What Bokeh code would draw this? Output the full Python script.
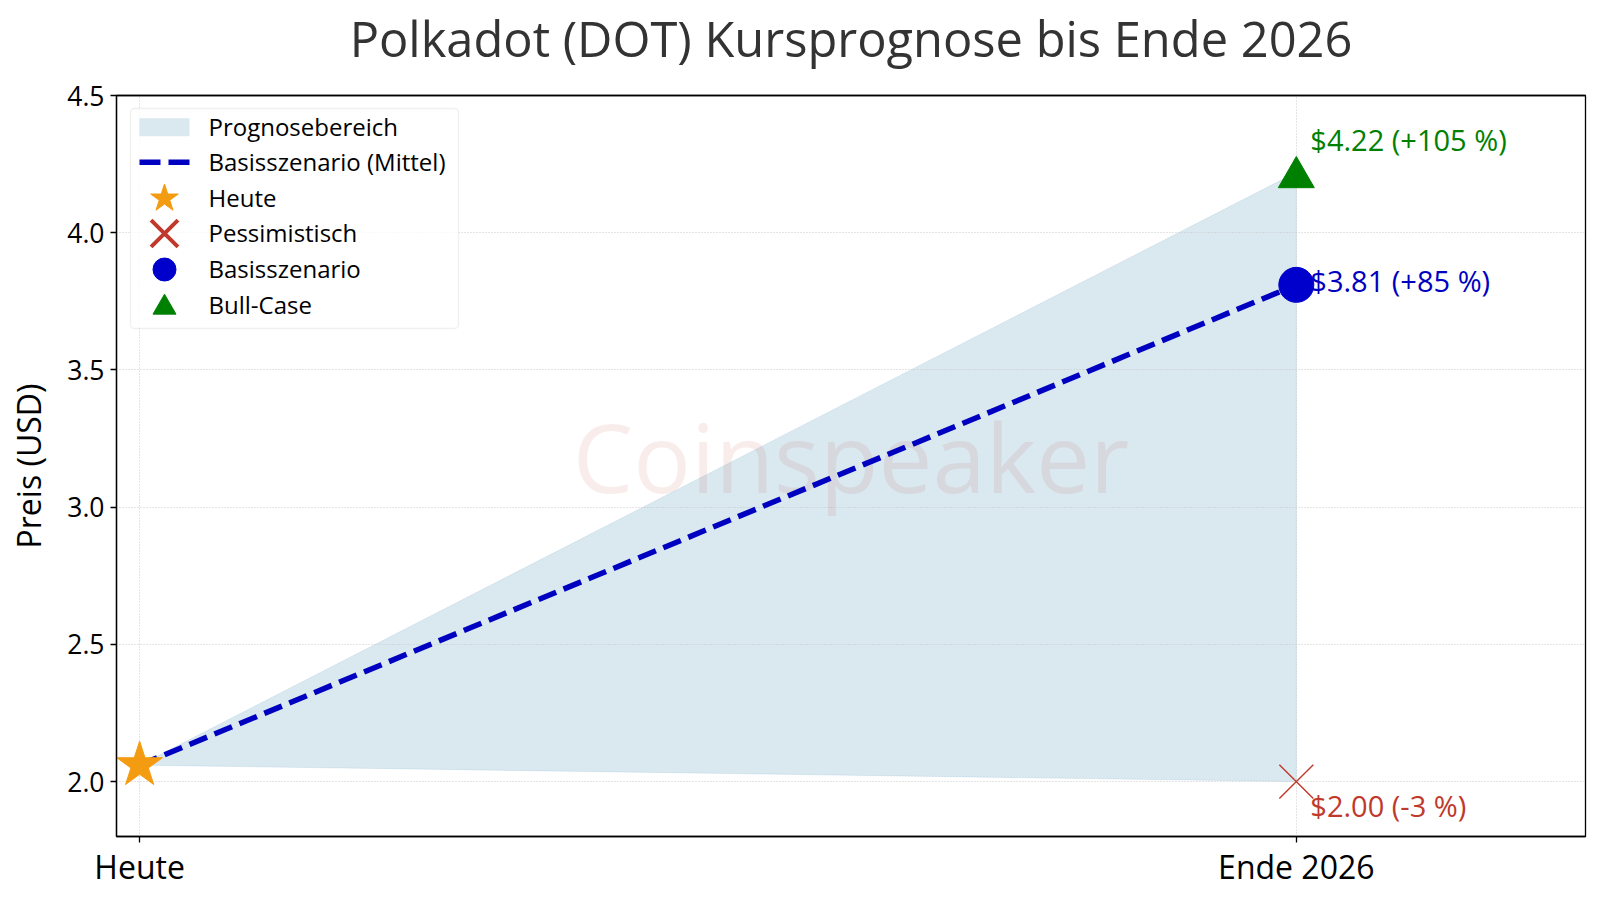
from bokeh.plotting import figure
from bokeh.models import ColumnDataSource, Label, FixedTicker, Range1d, BoxAnnotation, LinearAxis
from bokeh.core.properties import value
from bokeh.transform import dodge
from bokeh.embed import file_html
from bokeh.resources import INLINE

FONT = "Open Sans"

title_text = "Polkadot (DOT) Kursprognose bis Ende 2026"
y_label = "Preis (USD)"
x_ticks = [0, 1]
x_tick_labels = ["Heute", "Ende 2026"]
y_ticks = [2.0, 2.5, 3.0, 3.5, 4.0, 4.5]
y_tick_labels = ["2.0", "2.5", "3.0", "3.5", "4.0", "4.5"]

today_price = 2.06
bear_price = 2.00
base_price = 3.81
bull_price = 4.22
x_pos = [0, 1]

bear_label = "$2.00 (-3 %)"
base_label = "$3.81 (+85 %)"
bull_label = "$4.22 (+105 %)"

legend_labels = ["Prognosebereich", "Basisszenario (Mittel)", "Heute", "Pessimistisch", "Basisszenario", "Bull-Case"]
watermark = "Coinspeaker"

RED = "#C0392B"; BLUE = "#0000CD"; DBLUE = "#0000C0"; GREEN = "#008000"; ORANGE = "#F39C12"; BAND = "#448CB4"

# layout (page pixels of the plot frame)
W, H = 1590, 896
FL, FR, FT, FB = 116, 1585, 95, 836
X0, X1, Y0, Y1 = -0.02, 1.25, 1.8, 4.5

def fx(px):
    return X0 + (px - FL) / (FR - FL) * (X1 - X0)
def fy(py):
    return Y0 + (FB - py) / (FB - FT) * (Y1 - Y0)

p = figure(width=W, height=H, output_backend="svg", toolbar_location=None,
           x_range=Range1d(X0, X1), y_range=Range1d(Y0, Y1),
           min_border_left=FL, min_border_right=W - FR, min_border_top=FT, min_border_bottom=H - FB)

# chart title, carried by a tickless axis above the frame so its height can be set
title_axis = LinearAxis(ticker=FixedTicker(ticks=[]), axis_label=title_text, axis_label_standoff=25,
                        axis_label_text_font=FONT, axis_label_text_font_style="normal",
                        axis_label_text_font_size="48.8px", axis_label_text_color="#333333",
                        axis_line_color=None, major_tick_line_color=None, minor_tick_line_color=None,
                        major_tick_out=0, minor_tick_out=0, major_label_standoff=0)
p.add_layout(title_axis, "above")

p.outline_line_color = "black"
p.outline_line_width = 1.3

for ax in (p.xaxis[0], p.yaxis[0]):
    ax.major_label_text_font = FONT
    ax.major_label_text_color = "black"
    ax.axis_line_color = "black"
    ax.axis_line_width = 1.3
    ax.major_tick_line_color = "black"
    ax.major_tick_line_width = 1.3
    ax.major_tick_out = 6
    ax.major_tick_in = 0
    ax.minor_tick_line_color = None

bottom_axis = p.below[0]
bottom_axis.ticker = FixedTicker(ticks=x_ticks)
bottom_axis.major_label_overrides = dict(zip(x_ticks, x_tick_labels))
bottom_axis.major_label_text_font = FONT
bottom_axis.major_label_text_color = "black"
bottom_axis.axis_line_color = "black"
bottom_axis.axis_line_width = 1.3
bottom_axis.major_tick_line_color = "black"
bottom_axis.major_tick_line_width = 1.3
bottom_axis.major_tick_out = 6
bottom_axis.major_tick_in = 0
bottom_axis.minor_tick_line_color = None
bottom_axis.major_label_text_font_size = "32px"
bottom_axis.major_label_standoff = 2

p.yaxis.ticker = FixedTicker(ticks=y_ticks)
p.yaxis.major_label_overrides = dict(zip(y_ticks, y_tick_labels))
p.yaxis.major_label_text_font_size = "26.5px"
p.yaxis.major_label_standoff = 6
p.yaxis.axis_label = y_label
p.yaxis.axis_label_text_font = FONT
p.yaxis.axis_label_text_font_style = "normal"
p.yaxis.axis_label_text_font_size = "32px"
p.yaxis.axis_label_text_color = "black"
p.yaxis.axis_label_standoff = 14

for g in (p.xgrid[0], p.ygrid[0]):
    g.grid_line_color = "#c8c8c8"
    g.grid_line_dash = "1 2"
    g.grid_line_width = 1

# forecast band
p.patch(x=[x_pos[0], x_pos[1], x_pos[1]], y=[today_price, bull_price, bear_price],
        fill_color=BAND, fill_alpha=0.2, line_color=BAND, line_alpha=0.12, line_width=1, level="underlay")

p.add_layout(Label(x=(X0 + X1) / 2, y=fy((FT + FB) / 2 - 11),
                   text=watermark, text_align="center", text_baseline="middle", level="underlay",
                   text_font=FONT, text_font_size="96px", text_color=RED, text_alpha=0.09))

p.line(x_pos, [today_price, base_price], line_color=DBLUE, line_width=5.5, line_dash="19 8")

p.scatter([x_pos[0]], [today_price], marker="star", size=48, fill_color=ORANGE, line_color=ORANGE)
p.scatter([x_pos[1]], [bear_price], marker="x", size=48, line_color=RED, line_width=1.4)
p.scatter([x_pos[1]], [base_price], marker="circle", size=35, fill_color=BLUE, line_color=BLUE)
p.scatter(x="x", y=dodge("y", -0.018), source=ColumnDataSource(dict(x=[x_pos[1]], y=[bull_price])),
          marker="triangle", size=36, fill_color=GREEN, line_color=GREEN)

for lab, price, col, off in ((bull_label, bull_price, GREEN, -33), (base_label, base_price, DBLUE, -4), (bear_label, bear_price, RED, 24)):
    p.text([x_pos[1]], [price], text=[lab], x_offset=14, y_offset=off, text_color=col,
           text_font=value(FONT), text_font_size="29px", text_baseline="alphabetic", text_align="left")

# legend
p.add_layout(BoxAnnotation(left=fx(130), right=fx(458), top=fy(108), bottom=fy(328),
                           fill_color="white", fill_alpha=0.8, line_color="#cccccc", line_width=1.3,
                           border_radius=4))

KEY_X = 164
TEXT_X = 208
ROWS = [126.7, 161.7, 198, 233, 269, 305]

p.rect([fx(KEY_X)], [fy(ROWS[0])], width=50, height=18, width_units="screen", height_units="screen",
       fill_color=BAND, fill_alpha=0.2, line_color=None, level="overlay")
p.line([fx(KEY_X - 25), fx(KEY_X + 25)], [fy(ROWS[1]), fy(ROWS[1])], line_color=DBLUE, line_width=5.5,
       line_dash="21 8", level="overlay")
p.scatter([fx(KEY_X)], [fy(ROWS[2])], marker="star", size=29, fill_color=ORANGE, line_color=ORANGE, level="overlay")
p.scatter([fx(KEY_X)], [fy(ROWS[3])], marker="x", size=38, line_color=RED, line_width=4, level="overlay")
p.scatter([fx(KEY_X)], [fy(ROWS[4])], marker="circle", size=23, fill_color=BLUE, line_color=BLUE, level="overlay")
p.scatter([fx(KEY_X)], [fy(ROWS[5] + 2)], marker="triangle", size=23, fill_color=GREEN, line_color=GREEN, level="overlay")

for t, row in zip(legend_labels, ROWS):
    p.add_layout(Label(x=fx(TEXT_X), y=fy(row - 1), text=t, text_align="left", text_baseline="middle",
                       text_font=FONT, text_font_size="24px", text_color="black", level="overlay"))

open("out.html", "w").write(file_html(p, INLINE))
